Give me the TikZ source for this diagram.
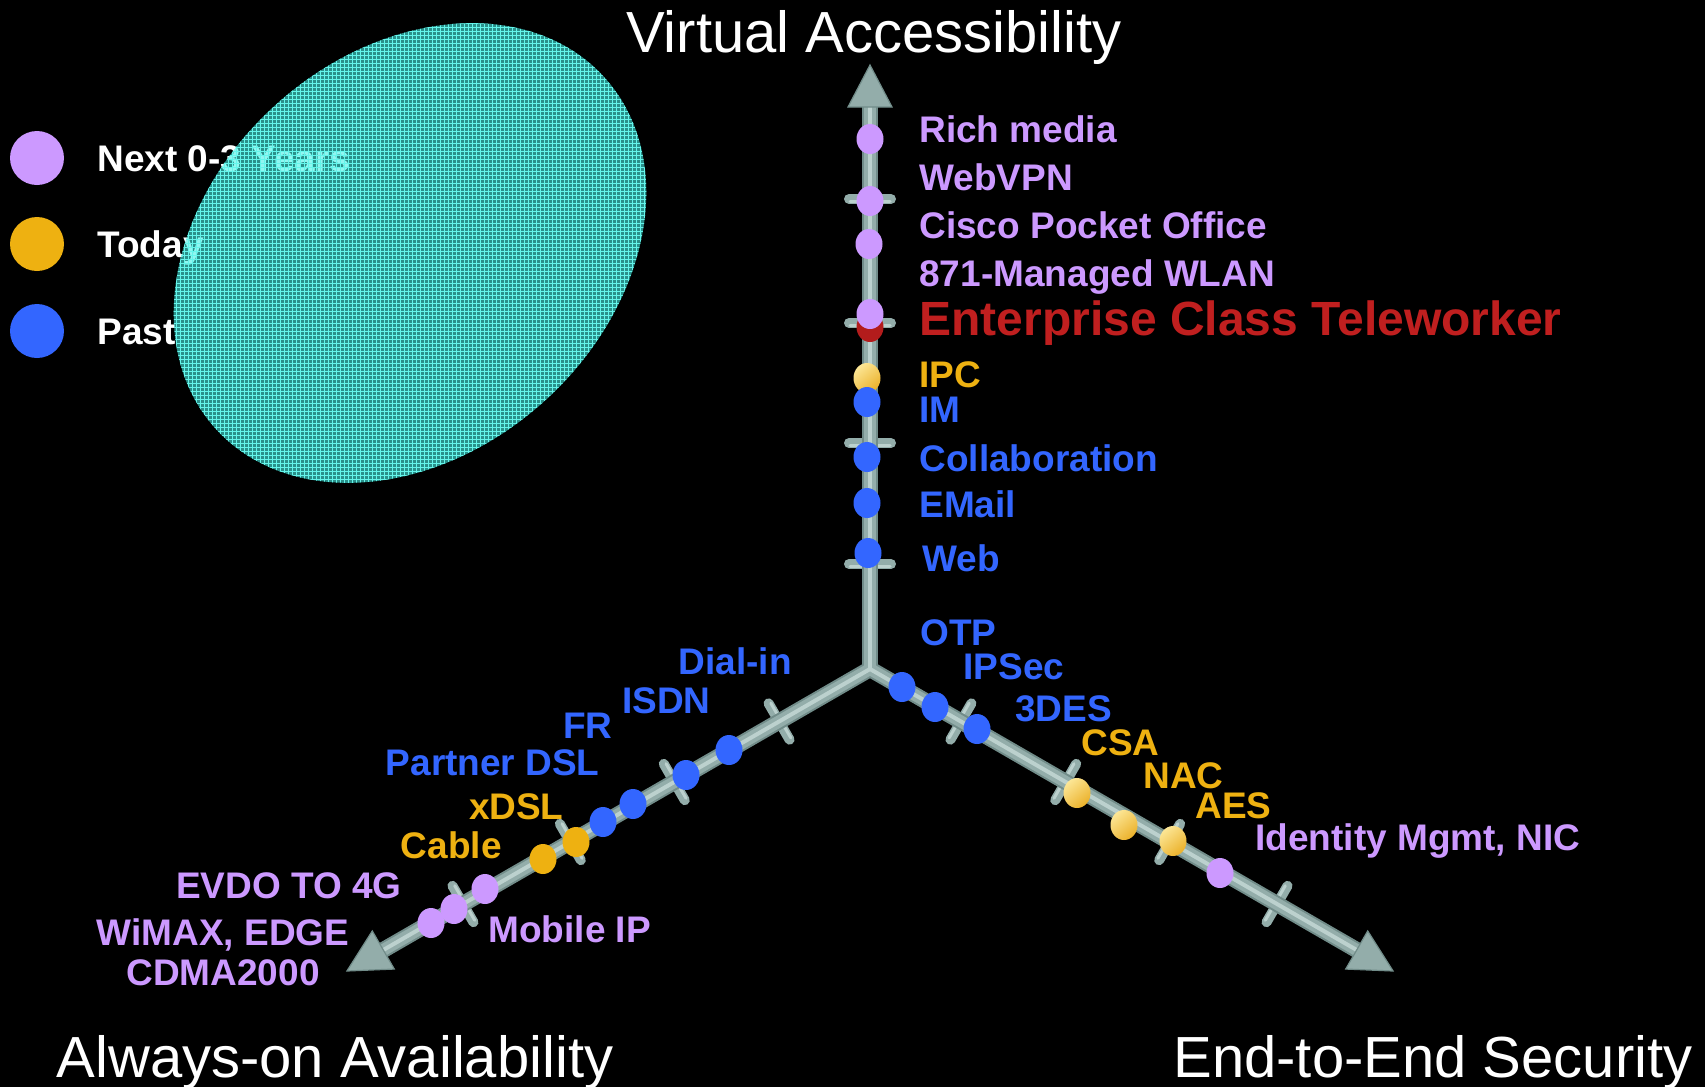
\documentclass[tikz,border=0pt]{standalone}
\usepackage{fontspec}
\setmainfont{Liberation Sans}
\usetikzlibrary{calc,shapes.geometric,patterns.meta}

\definecolor{purp}{HTML}{CC99FF}
\definecolor{blu}{HTML}{3366FF}
\definecolor{amber}{HTML}{EEB111}
\definecolor{amberLt}{HTML}{FCE695}
\definecolor{amberDk}{HTML}{EBB12A}
\definecolor{teleRed}{HTML}{C01F1F}
\definecolor{dotRed}{HTML}{B31C1C}
\definecolor{axisDark}{HTML}{718C89}
\definecolor{axisMid}{HTML}{93ADAA}
\definecolor{axisLight}{HTML}{BCD1CE}
\definecolor{meshFill}{RGB}{70,240,230}
\definecolor{meshLine}{RGB}{100,245,235}

\begin{document}
\begin{tikzpicture}[x=0.5pt,y=-0.5pt,
  lbl/.style={font=\fontsize{18.5}{22}\selectfont\bfseries, inner sep=0pt,
              text height=13.25pt, text depth=0pt},
  biglbl/.style={font=\fontsize{24}{29}\selectfont\bfseries, inner sep=0pt,
              text height=17.2pt, text depth=0pt},
  title/.style={font=\fontsize{29}{34}\selectfont, text=white, inner sep=0pt},
  dot/.style={ellipse, inner sep=0pt, minimum width=13.5pt, minimum height=15pt},
  pdot/.style={dot, fill=purp},
  bdot/.style={dot, fill=blu},
  ydot/.style={dot, fill=amber},
  gdot/.style={dot, top color=amberLt, bottom color=amberDk, shading angle=40},
  keydot/.style={circle, inner sep=0pt, minimum size=27pt},
  shaftDark/.style={line width=8pt, draw=axisDark},
  shaftMid/.style={line width=6pt, draw=axisMid},
  shaftHi/.style={line width=2pt, draw=axisLight},
  tickbar/.style={line width=5pt, line cap=round, draw=axisMid},
  tickhi/.style={line width=1.5pt, line cap=round, draw=axisLight},
  headfill/.style={fill=axisMid, draw=axisDark, line width=0.6pt, line join=miter}
]
\fill[black] (0,0) rectangle (1705,1087);
\useasboundingbox (0,0) rectangle (1705,1087);

% ---------- legend ----------
\node[keydot, fill=purp]  (kNext)  at (37,158) {};
\node[keydot, fill=amber] (kToday) at (37,244) {};
\node[keydot, fill=blu]   (kPast)  at (37,331) {};
\node[lbl, text=white, anchor=west] (tNext)  at (97,158) {Next 0-3 Years};
\node[lbl, text=white, anchor=west] (tToday) at (97,244) {Today};
\node[lbl, text=white, anchor=west] (tPast)  at (97,331) {Past};

% ---------- translucent meshed oval ----------
\fill[meshFill, fill opacity=0.6, rotate around={42:(410,253)}]
  (410,253) ellipse [x radius=262, y radius=200];
\fill[pattern={Hatch[angle=0,distance=2pt,line width=0.25pt]}, pattern color=meshLine,
      rotate around={42:(410,253)}]
  (410,253) ellipse [x radius=262, y radius=200];

% ---------- three axes ----------
\coordinate (O) at (870,669);
\foreach \a/\n in {270/up,150/left,30/right}{
  \coordinate (\n base) at ($(O)+(\a:562)$);
  \coordinate (\n tip)  at ($(O)+(\a:604)$);
}
% cross bars
\foreach \a in {270,150,30}
  \foreach \d in {105,226,346,470}{
    \draw[tickbar] ($(O)+(\a:\d)+(\a+90:21)$) -- ($(O)+(\a:\d)+(\a-90:21)$);
    \draw[tickhi]  ($(O)+(\a:\d-2)+(\a+90:20)$) -- ($(O)+(\a:\d-2)+(\a-90:20)$);
  }
% shafts
\foreach \n in {up,left,right} \draw[shaftDark] (O) -- (\n base);
\fill[axisMid] (O) circle [radius=7];
\foreach \n in {up,left,right} \draw[shaftMid] (O) -- (\n base);
\foreach \n in {up,left,right} \draw[shaftHi] (O) -- (\n base);
% arrow heads
\foreach \a/\n in {270/up,150/left,30/right}
  \filldraw[headfill] ($(\n base)+(\a+90:22)$) -- (\n tip) -- ($(\n base)+(\a-90:22)$) -- cycle;

% ---------- vertical axis: Virtual Accessibility ----------
\node[pdot] (dRich)   at (870,139) {};
\node[pdot] (dWebVPN) at (870,201) {};
\node[pdot] (dPocket) at (869,244) {};
\node[dot, fill=dotRed] (dTele) at (870,327) {};
\node[pdot] (dWLAN)   at (870,314) {};
\node[gdot] (dIPC)    at (867,378) {};
\node[bdot] (dIM)     at (867,402) {};
\node[bdot] (dCollab) at (867,457) {};
\node[bdot] (dEMail)  at (867,503) {};
\node[bdot] (dWeb)    at (868,553) {};

\node[lbl, text=purp, anchor=west] (lRich)   at (919,129) {Rich media};
\node[lbl, text=purp, anchor=west] (lWebVPN) at (919,177) {WebVPN};
\node[lbl, text=purp, anchor=west] (lPocket) at (919,225) {Cisco Pocket Office};
\node[lbl, text=purp, anchor=west] (lWLAN)   at (919,273) {871-Managed WLAN};
\node[biglbl, text=teleRed, anchor=west] (lTele) at (919,318) {Enterprise Class Teleworker};
\node[lbl, text=amber, anchor=west] (lIPC)   at (919,374) {IPC};
\node[lbl, text=blu, anchor=west] (lIM)      at (919,409) {IM};
\node[lbl, text=blu, anchor=west] (lCollab)  at (919,458) {Collaboration};
\node[lbl, text=blu, anchor=west] (lEMail)   at (919,504) {EMail};
\node[lbl, text=blu, anchor=west] (lWeb)     at (922,558) {Web};

% ---------- right axis: End-to-End Security ----------
\node[bdot] (dOTP)   at (902,687) {};
\node[bdot] (dIPSec) at (935,707) {};
\node[bdot] (d3DES)  at (977,729) {};
\node[gdot] (dCSA)   at (1077,793) {};
\node[gdot] (dNAC)   at (1124,825) {};
\node[gdot] (dAES)   at (1173,841) {};
\node[pdot] (dIdent) at (1220,873) {};

\node[lbl, text=blu, anchor=west]   (lOTP)   at (920,632) {OTP};
\node[lbl, text=blu, anchor=west]   (lIPSec) at (963,666) {IPSec};
\node[lbl, text=blu, anchor=west]   (l3DES)  at (1015,708) {3DES};
\node[lbl, text=amber, anchor=west] (lCSA)   at (1081,742) {CSA};
\node[lbl, text=amber, anchor=west] (lNAC)   at (1143,775) {NAC};
\node[lbl, text=amber, anchor=west] (lAES)   at (1195,805) {AES};
\node[lbl, text=purp, anchor=west]  (lIdent) at (1255,837) {Identity Mgmt, NIC};

% ---------- left axis: Always-on Availability ----------
\node[bdot] (dDial)    at (729,750) {};
\node[bdot] (dISDN)    at (686,775) {};
\node[bdot] (dFR)      at (633,804) {};
\node[bdot] (dPartner) at (603,822) {};
\node[ydot] (dxDSL)    at (576,842) {};
\node[ydot] (dCable)   at (543,859) {};
\node[pdot] (dEVDO)    at (485,889) {};
\node[pdot] (dMobile)  at (454,909) {};
\node[pdot] (dWiMAX)   at (431,923) {};

\node[lbl, text=blu, anchor=east]   (lDial)    at (792,661) {Dial-in};
\node[lbl, text=blu, anchor=east]   (lISDN)    at (711,700) {ISDN};
\node[lbl, text=blu, anchor=east]   (lFR)      at (613,725) {FR};
\node[lbl, text=blu, anchor=east]   (lPartner) at (600,762) {Partner DSL};
\node[lbl, text=amber, anchor=east] (lxDSL)    at (564,806) {xDSL};
\node[lbl, text=amber, anchor=east] (lCable)   at (502,845) {Cable};
\node[lbl, text=purp, anchor=east]  (lEVDO)    at (402,885) {EVDO TO 4G};
\node[lbl, text=purp, anchor=west]  (lMobile)  at (488,929) {Mobile IP};
\node[lbl, text=purp]               (lWiMAX)   at (223,932) {WiMAX, EDGE};
\node[lbl, text=purp]               (lCDMA)    at (223,972) {CDMA2000};

% ---------- axis titles ----------
\node[title, anchor=base] (ttlUp)    at (874,52)    {Virtual Accessibility};
\node[title, anchor=base] (ttlLeft)  at (335,1077)  {Always-on Availability};
\node[title, anchor=base] (ttlRight) at (1433,1077) {End-to-End Security};
\end{tikzpicture}
\end{document}
